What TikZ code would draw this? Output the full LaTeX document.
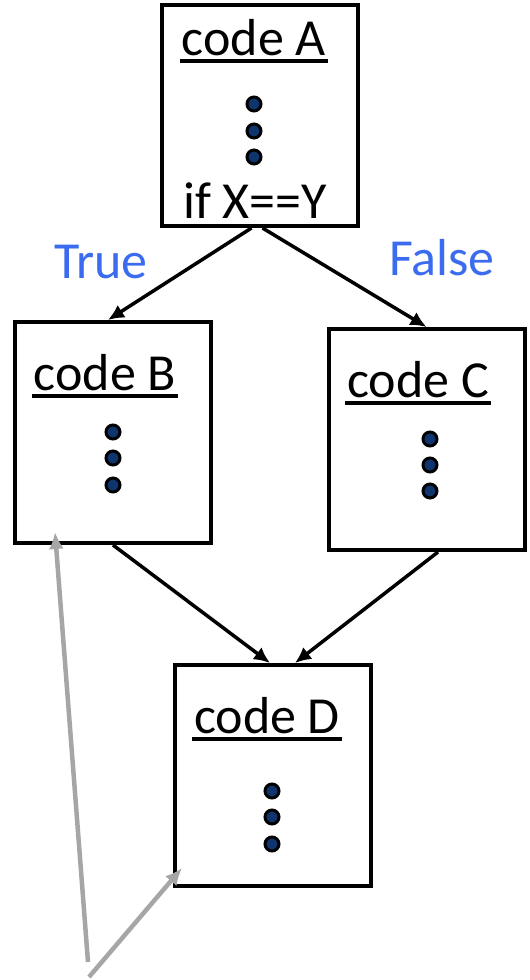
\documentclass[tikz,border=0pt]{standalone}
\usepackage{fontspec}
\setmainfont{Carlito}
\usetikzlibrary{arrows.meta}

\definecolor{labelblue}{RGB}{59,108,240}
\definecolor{dotblue}{RGB}{16,52,110}
\definecolor{pointgray}{RGB}{166,166,166}

\begin{document}
\begin{tikzpicture}[x=1pt, y=-1pt, every node/.style={font=\fontsize{52}{60}\selectfont},
    codebox/.style={draw, line width=4pt, minimum width=196pt, minimum height=221pt, inner sep=0pt},
    title/.style={anchor=base, inner sep=0pt},
    uline/.style={line width=3.5pt, shorten <=-2pt, shorten >=-2pt},
    dot/.style={circle, draw, line width=3pt, fill=dotblue, minimum size=14pt, inner sep=0pt},
    arrow/.style={-{Latex[length=16pt, width=15pt]}, line width=3.5pt},
    pointer/.style={-{Latex[length=17pt, width=15pt]}, line width=4.5pt, draw=pointgray, fill=pointgray}]
  \useasboundingbox (0,0) rectangle (530,980);

  % the four blocks
  \node[codebox] (A) at (259.5,115.5) {};
  \node[codebox] (B) at (113,432.5) {};
  \node[codebox] (C) at (426.5,439.5) {};
  \node[codebox] (D) at (273,775.5) {};

  % block titles
  \node[title] (titleA) at (254,55) {code A};
  \node[title] (titleB) at (105,390) {code B};
  \node[title] (titleC) at (418,397) {code C};
  \node[title] (titleD) at (267,733) {code D};
  \foreach \t in {titleA,titleB,titleC,titleD}
    \draw[uline] ([yshift=-6pt]\t.base west) -- ([yshift=-6pt]\t.base east);

  \node[title] (cond) at (255,218) {if X==Y};

  % the dots
  \foreach \y [count=\i] in {104,131,157} \node[dot] (dotA\i) at (254,\y) {};
  \foreach \y [count=\i] in {432,458,485} \node[dot] (dotB\i) at (113,\y) {};
  \foreach \y [count=\i] in {439,465,491} \node[dot] (dotC\i) at (430,\y) {};
  \foreach \y [count=\i] in {791,817,844} \node[dot] (dotD\i) at (272,\y) {};

  % branch labels
  \node[title, text=labelblue] (true) at (101,278) {True};
  \node[title, text=labelblue] (false) at (442,275) {False};

  % control flow
  \draw[arrow] ([xshift=-8pt]A.south) -- ([xshift=-5pt]B.north);
  \draw[arrow] ([xshift=3pt]A.south) -- (C.north);
  \draw[arrow] (B.south) -- ([xshift=-3pt]D.north);
  \draw[arrow] ([xshift=11.5pt]C.south) -- ([xshift=22pt]D.north);

  % gray pointers
  \coordinate (src1) at (88,962);
  \coordinate (src2) at (89,977);
  \draw[pointer] (src1) -- ([shift={(42,-13)}]B.south west);
  \draw[pointer] (src2) -- ([shift={(9,-20)}]D.south west);
\end{tikzpicture}
\end{document}
